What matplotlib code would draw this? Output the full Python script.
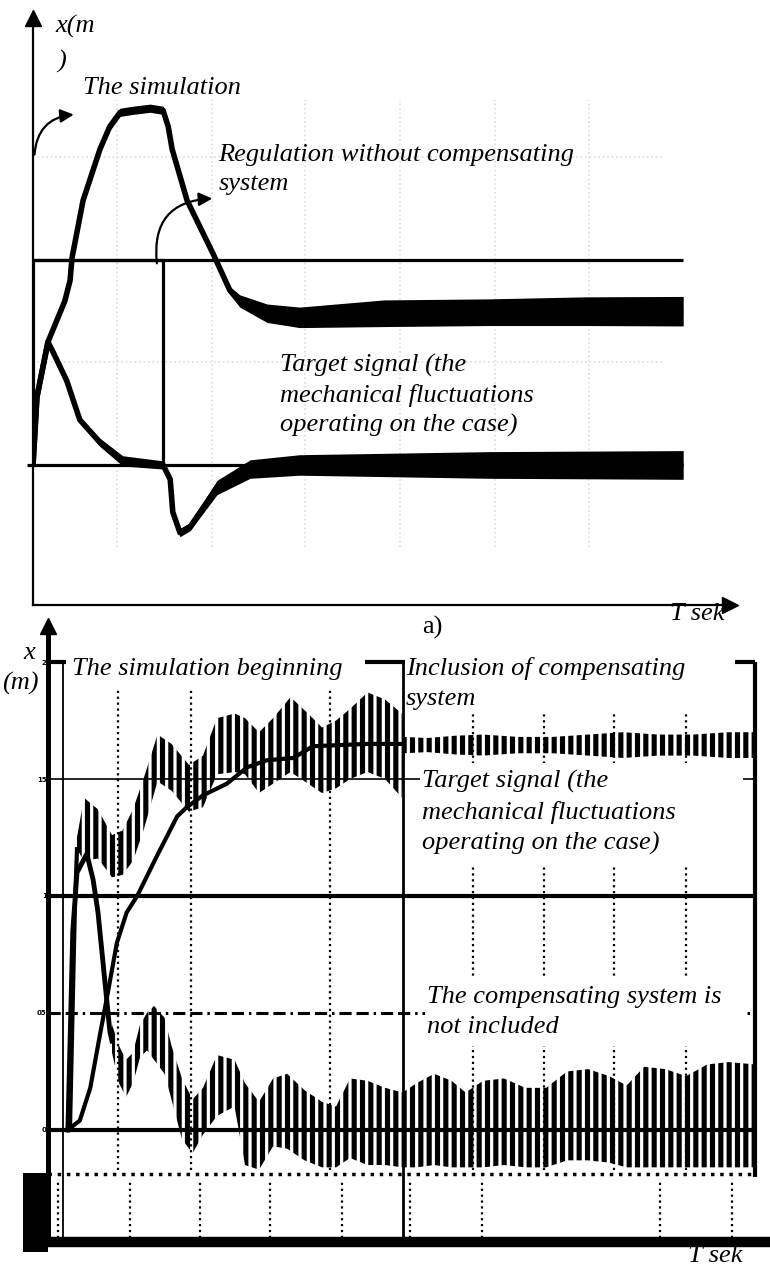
"""Two-panel response chart: a) regulation without compensation, b) with/without compensating system.

    python3 plot.py  -> out.png
"""

import matplotlib

matplotlib.use("Agg")
import matplotlib.pyplot as plt
import numpy as np
from matplotlib.patches import Rectangle

SERIF = "Liberation Serif"
FS = 19

# ---------------- panel a (t in s, x in m) ----------------
A_PULSE_T = [0, 0, 2, 2]
A_PULSE_X = [0, 1, 1, 0]
A_T_END = 10

# regulation without compensating system (centre line + half width of the ripple band)
A_REG_T = [0, 0.06, 0.23, 0.49, 0.57, 0.6, 0.77, 1.03, 1.18, 1.34, 1.54, 1.8, 2.0,
           2.08, 2.14, 2.37, 2.77, 3.03, 3.18, 3.6, 4.1, 5.4, 7.0, 8.5, 10]
A_REG_X = [0, 0.33, 0.6, 0.8, 0.9, 1.01, 1.29, 1.54, 1.65, 1.72, 1.73, 1.74, 1.73,
           1.65, 1.54, 1.29, 1.03, 0.85, 0.8, 0.74, 0.72, 0.74, 0.745, 0.75, 0.75]
A_REG_HALF = [0.01, 0.01, 0.01, 0.015, 0.015, 0.015, 0.015, 0.015, 0.02, 0.02, 0.02, 0.02, 0.02,
              0.015, 0.015, 0.015, 0.02, 0.02, 0.03, 0.045, 0.05, 0.065, 0.065, 0.07, 0.072]

# target signal response
A_TGT_T = [0, 0.06, 0.23, 0.31, 0.52, 0.72, 1.03, 1.38, 2.0, 2.11, 2.15, 2.26, 2.42,
           2.57, 2.83, 3.34, 4.1, 7, 10]
A_TGT_X = [0, 0.33, 0.6, 0.55, 0.41, 0.22, 0.11, 0.02, 0.0, -0.07, -0.23, -0.33, -0.3,
           -0.23, -0.11, -0.02, 0.0, 0.0, 0.0]
A_TGT_HALF = [0, 0, 0.01, 0.01, 0.01, 0.015, 0.02, 0.025, 0.02, 0.015, 0.015, 0.02, 0.02,
              0.025, 0.035, 0.045, 0.05, 0.065, 0.07]

A_GRID_T = [1.29, 2.75, 4.18, 5.65, 7.11, 8.55]
A_GRID_X = [0.5, 1.5]

# ---------------- panel b ----------------
B_LEVELS = [0, 0.5, 1, 1.5, 2]
B_LEVEL_LABELS = ["0", "05", "1", "15", "2"]
B_T_START = 0
B_T_SWITCH = 4.86
B_T_END = 9.89
B_NOISE_X = -0.19

# smooth (model) curve
B_MODEL_T = [0.07, 0.24, 0.39, 0.53, 0.63, 0.77, 0.91, 1.06, 1.34, 1.63, 1.77, 2.0,
             2.34, 2.63, 2.91, 3.29, 3.57, 4.34, 4.86]
B_MODEL_X = [0, 0.04, 0.18, 0.41, 0.57, 0.8, 0.93, 1.0, 1.17, 1.34, 1.38, 1.43,
             1.48, 1.55, 1.58, 1.59, 1.64, 1.65, 1.65]

# with compensating system (switched on at B_T_SWITCH)
B_COMP_RISE_T = [0.1, 0.14, 0.17, 0.2]
B_COMP_RISE_X = [0, 0.55, 0.95, 1.2]
B_COMP_T = [0.2, 0.3, 0.5, 0.7, 0.85, 1.0, 1.15, 1.35, 1.55, 1.8, 2.0, 2.2, 2.45, 2.6,
            2.8, 3.0, 3.25, 3.5, 3.7, 3.9, 4.1, 4.35, 4.6, 4.84,
            4.88, 5.2, 5.6, 6.0, 6.5, 7.0, 7.5, 8.0, 8.5, 9.0, 9.5, 9.89]
B_COMP_HI = [1.25, 1.42, 1.37, 1.26, 1.28, 1.37, 1.5, 1.69, 1.65, 1.56, 1.6, 1.76, 1.78, 1.76,
             1.7, 1.76, 1.85, 1.78, 1.72, 1.75, 1.8, 1.87, 1.84, 1.78,
             1.68, 1.675, 1.685, 1.69, 1.68, 1.68, 1.69, 1.7, 1.69, 1.69, 1.7, 1.7]
B_COMP_LO = [1.2, 1.15, 1.16, 1.08, 1.09, 1.15, 1.28, 1.49, 1.45, 1.36, 1.38, 1.52, 1.53, 1.52,
             1.44, 1.48, 1.53, 1.48, 1.44, 1.46, 1.5, 1.53, 1.5, 1.42,
             1.61, 1.615, 1.605, 1.6, 1.61, 1.61, 1.6, 1.59, 1.6, 1.6, 1.59, 1.59]

# compensating system not included
B_OPEN_RISE_T = [0.07, 0.14, 0.2, 0.34, 0.43, 0.5, 0.6, 0.67, 0.7]
B_OPEN_RISE_X = [0, 0.85, 1.1, 1.18, 1.07, 0.93, 0.63, 0.42, 0.38]
B_OPEN_T = [0.7, 0.8, 0.9, 1.0, 1.1, 1.2, 1.3, 1.45, 1.55, 1.7, 1.85, 2.0, 2.2, 2.45, 2.6,
            2.8, 3.0, 3.2, 3.45, 3.7, 3.9, 4.1, 4.35, 4.6, 4.85, 5.05, 5.3, 5.55, 5.75, 6.0,
            6.3, 6.6, 6.9, 7.2, 7.5, 7.8, 8.05, 8.3, 8.6, 8.9, 9.2, 9.5, 9.89]
B_OPEN_HI = [0.45, 0.36, 0.3, 0.33, 0.45, 0.5, 0.53, 0.48, 0.36, 0.22, 0.13, 0.18, 0.32, 0.3, 0.2,
             0.12, 0.22, 0.24, 0.17, 0.12, 0.1, 0.22, 0.21, 0.18, 0.16, 0.2, 0.24, 0.21, 0.16, 0.21,
             0.22, 0.18, 0.18, 0.25, 0.26, 0.23, 0.19, 0.27, 0.26, 0.23, 0.28, 0.29, 0.28]
B_OPEN_LO = [0.33, 0.2, 0.14, 0.2, 0.31, 0.34, 0.3, 0.24, 0.13, -0.04, -0.1, -0.02, 0.06, 0.1, -0.15,
             -0.17, -0.07, -0.08, -0.13, -0.16, -0.16, -0.12, -0.15, -0.15, -0.16, -0.16, -0.15, -0.16,
             -0.16, -0.16, -0.15, -0.16, -0.16, -0.13, -0.13, -0.14, -0.16, -0.16, -0.16, -0.16,
             -0.16, -0.16, -0.16]

B_GRID_T = [0.79, 1.83, 3.81, 5.86, 6.87, 7.87, 8.9]
B_GRID_LOW_T = [-0.07, 0.96, 1.96, 2.96, 3.99, 4.96, 5.99, 8.53, 9.56]

W, H = 770, 1273


def px_axes(fig, left, top, right, bottom):
    return fig.add_axes([left / W, 1 - bottom / H, (right - left) / W, (bottom - top) / H])


def note(ax, t, x, s, va="center", **kw):
    ax.text(t, x, s, family=SERIF, style="italic", fontsize=FS, ha="left", va=va,
            zorder=6, **kw)


def arrow_axes(ax, lw, ms):
    for side in ("top", "right"):
        ax.spines[side].set_visible(False)
    for side in ("left", "bottom"):
        ax.spines[side].set_linewidth(lw)
    ax.plot(0, 1, marker="^", ms=ms, color="k", transform=ax.transAxes, clip_on=False)
    ax.plot(1, 0, marker=">", ms=ms, color="k", transform=ax.transAxes, clip_on=False)
    ax.tick_params(length=0)
    ax.set_xticks([])


def panel_a(fig):
    ax = px_axes(fig, 33, 18, 730, 605)
    ax.set_xlim(0, 10.72)
    ax.set_ylim(-0.683, 2.18)
    arrow_axes(ax, 1.6, 11)
    ax.set_yticks([])

    ax.vlines(A_GRID_T, -0.4, 1.78, colors="#dddddd", lw=1.2, linestyles=":", zorder=1)
    ax.hlines(A_GRID_X, 0, 9.7, colors="#dddddd", lw=1.2, linestyles=":", zorder=1)

    ax.plot(A_PULSE_T, A_PULSE_X, color="k", lw=2.3, zorder=3)
    ax.hlines(1, 0, A_T_END, color="k", lw=2.3, zorder=3)
    ax.hlines(0, -0.09, A_T_END, color="k", lw=2.3, zorder=3, clip_on=False)

    for t, x, h in ((A_REG_T, A_REG_X, A_REG_HALF), (A_TGT_T, A_TGT_X, A_TGT_HALF)):
        x, h = np.array(x), np.array(h)
        ax.fill_between(t, x - h, x + h, color="k", lw=0, zorder=4)
        ax.plot(t, x, color="k", lw=4, zorder=4, solid_capstyle="butt")

    note(ax, 0.34, 2.14, "x(m")
    note(ax, 0.37, 1.97, ")")
    note(ax, 0.77, 1.84, "The simulation")
    note(ax, 2.85, 1.565, "Regulation without compensating\nsystem", va="top", linespacing=1.38)
    note(ax, 3.8, 0.54, "Target signal (the\nmechanical fluctuations\noperating on the case)",
         va="top", linespacing=1.38)
    note(ax, 9.8, -0.727, "T sek", clip_on=False)

    arrow = dict(arrowstyle="-|>", color="k", lw=1.6, mutation_scale=20)
    ax.annotate("", xy=(0.67, 1.71), xytext=(0.02, 1.5),
                arrowprops=dict(arrow, connectionstyle="arc3,rad=-0.45"))
    ax.annotate("", xy=(2.8, 1.3), xytext=(1.91, 0.97),
                arrowprops=dict(arrow, connectionstyle="arc3,rad=-0.55"))


def panel_b(fig):
    ax = px_axes(fig, 48, 626, 766, 1242)
    ax.set_xlim(-0.214, 10.04)
    ax.set_ylim(-0.479, 2.154)
    arrow_axes(ax, 3.6, 11)
    ax.spines["bottom"].set_linewidth(7.5)
    ax.lines[-1].set_visible(False)
    ax.set_yticks(B_LEVELS, B_LEVEL_LABELS, fontsize=5, fontweight="bold")
    ax.tick_params(axis="y", pad=1)

    left = -0.214
    ax.hlines(B_LEVELS[4], left, B_T_END, color="k", lw=3, zorder=2)
    ax.hlines(B_LEVELS[3], left, B_T_END, color="k", lw=1.2, zorder=2)
    ax.hlines([B_LEVELS[2], B_LEVELS[0]], left, B_T_END, color="k", lw=3, zorder=2)
    ax.hlines(B_LEVELS[1], left, B_T_END, color="k", lw=2.2, zorder=2,
              linestyles=[(0, (4, 1.6, 4, 1.6, 0.8, 1.6))])
    ax.hlines(B_NOISE_X, left, B_T_END, color="k", lw=2.5, linestyles=":", zorder=2)

    ax.vlines(B_T_START, -0.479, 2, color="k", lw=1.3, zorder=2)
    ax.vlines(B_T_SWITCH, -0.479, 2, color="k", lw=2, zorder=2)
    ax.vlines(B_T_END, -0.2, 2, color="k", lw=3, zorder=2)
    ax.vlines(B_GRID_T, -0.17, 1.88, color="k", lw=1.6, linestyles=":", zorder=2)
    ax.vlines(B_GRID_LOW_T, -0.46, -0.21, color="k", lw=1.6, linestyles=":", zorder=2)

    ax.plot(B_MODEL_T, B_MODEL_X, color="k", lw=3, zorder=3)
    ax.plot(B_COMP_RISE_T, B_COMP_RISE_X, color="k", lw=3, zorder=3)
    ax.plot(B_OPEN_RISE_T, B_OPEN_RISE_X, color="k", lw=3.5, zorder=3)
    for t, lo, hi in ((B_COMP_T, B_COMP_LO, B_COMP_HI), (B_OPEN_T, B_OPEN_LO, B_OPEN_HI)):
        ax.fill_between(t, lo, hi, facecolor="none", edgecolor="k", hatch="||", lw=0, zorder=4)

    # white text frames, as in the scanned figure
    for t0, x0, t1, x1 in ((0.04, 1.88, 4.31, 2.06), (4.89, 1.79, 9.6, 2.06),
                           (5.1, 1.13, 9.71, 1.57), (5.17, 0.36, 9.71, 0.65)):
        ax.add_patch(Rectangle((t0, x0), t1 - t0, x1 - x0, color="white", lw=0, zorder=5))
    ax.add_patch(Rectangle((-0.57, -0.52), 0.356, 0.336, color="k", lw=0, zorder=5,
                           clip_on=False))

    note(ax, 0.13, 1.97, "The simulation beginning")
    note(ax, 4.9, 2.02, "Inclusion of compensating\nsystem", va="top", linespacing=1.45)
    note(ax, 5.13, 1.54, "Target signal (the\nmechanical fluctuations\noperating on the case)",
         va="top", linespacing=1.45)
    note(ax, 5.2, 0.615, "The compensating system is\nnot included", va="top", linespacing=1.45)
    note(ax, -0.57, 2.04, "x", clip_on=False)
    note(ax, -0.87, 1.91, "(m)", clip_on=False)
    note(ax, 8.93, -0.54, "T sek", clip_on=False)


def main() -> None:
    plt.rcParams["hatch.linewidth"] = 3.7
    fig = plt.figure(figsize=(W / 100, H / 100), dpi=100)
    panel_a(fig)
    panel_b(fig)
    fig.text(422 / W, 1 - 627 / H, "a)", family=SERIF, fontsize=FS, ha="left", va="center")
    fig.savefig("out.png", dpi=100)


if __name__ == "__main__":
    main()
